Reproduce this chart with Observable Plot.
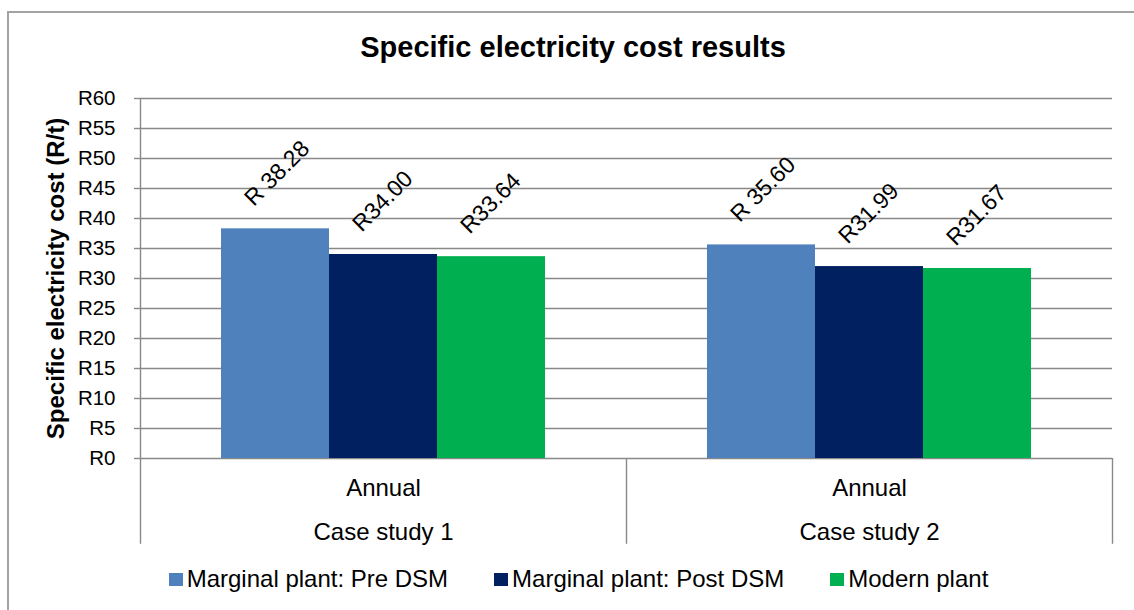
<!DOCTYPE html>
<html>
<head>
<meta charset="utf-8">
<script src="https://cdn.jsdelivr.net/npm/d3@7"></script>
<script src="https://cdn.jsdelivr.net/npm/@observablehq/plot@0.6"></script>
<style>
  body { margin: 0; width: 1134px; height: 610px; overflow: hidden; position: relative; background: #fff;
         font-family: "Liberation Sans", Arial, sans-serif; color: #000; }
  #border { position: absolute; left: 7px; top: 11px; width: 1200px; height: 700px; border: 2px solid #a3a3a3; box-sizing: border-box; }
  #title { position: absolute; left: 0; top: 33px; width: 1146px; text-align: center; font-weight: bold; font-size: 29px; line-height: 29px; }
  #chart { position: absolute; left: 0; top: 70px; }
  #legend { position: absolute; left: 0; top: 567px; width: 1157px; display: flex; justify-content: center; gap: 46px; font-size: 24px; line-height: 24px; }
  .item { display: flex; align-items: center; white-space: nowrap; }
  .sw { width: 14px; height: 13px; margin-right: 4px; }
</style>
</head>
<body>
<div id="border"></div>
<div id="title"></div>
<div id="chart"></div>
<div id="legend"></div>
<script>
const title = "Specific electricity cost results";
const yLabel = "Specific electricity cost (R/t)";
const cases = ["Case study 1", "Case study 2"];
const period = "Annual";
const series = ["Marginal plant: Pre DSM", "Marginal plant: Post DSM", "Modern plant"];
const preDSM = [38.28, 35.60];
const postDSM = [34.00, 31.99];
const modern = [33.64, 31.67];
const labelPrefix = ["R ", "R", "R"];
const yTicks = [0, 5, 10, 15, 20, 25, 30, 35, 40, 45, 50, 55, 60];
const colors = ["#4F81BD", "#002060", "#00B050"];

const values = [preDSM, postDSM, modern];
const rows = [];
cases.forEach((c, ci) => series.forEach((s, si) =>
  rows.push({case: c, ci, series: s, si, value: values[si][ci]})));

const gapWidth = 1.5;                       // Excel-style gap width (150%)
const barW = 1 / (series.length + gapWidth);
const barOff = gapWidth * barW / 2;
const bx1 = d => d.ci + barOff + d.si * barW;
const bx2 = d => bx1(d) + barW;
const bxc = d => bx1(d) + barW / 2;
const grid = "#898989";
const depth = -14.3;                        // depth of the category-label band below R0

document.getElementById("title").textContent = title;

const chart = Plot.plot({
  width: 1134,
  height: 480,
  marginTop: 28,
  marginBottom: 92,
  marginLeft: 140,
  marginRight: 22,
  style: {fontFamily: '"Liberation Sans", Arial, sans-serif', fontSize: "20.5px", overflow: "visible", background: "transparent", color: "#000"},
  x: {domain: [0, cases.length], axis: null},
  y: {domain: [0, 60], axis: null},
  color: {domain: series, range: colors},
  marks: [
    Plot.ruleY(yTicks, {stroke: grid, strokeWidth: 1.4}),
    Plot.axisY({ticks: yTicks, tickSize: 6, tickPadding: 19, tickFormat: d => "R" + d,
                stroke: grid, strokeWidth: 1.4, fill: "#000", label: null, fontSize: 20.5}),
    Plot.rect(rows, {x1: bx1, x2: bx2, y1: 0, y2: "value", fill: "series"}),
    Plot.ruleX([0], {y1: 60, y2: depth, stroke: grid, strokeWidth: 1.4}),
    Plot.ruleX(d3.range(1, cases.length + 1), {y1: 0, y2: depth, stroke: grid, strokeWidth: 1.4}),
    Plot.text(rows, {x: bxc, y: "value", text: d => labelPrefix[d.si] + d.value.toFixed(2),
                     rotate: -45, textAnchor: "start", lineAnchor: "middle", dx: -27, dy: -27,
                     fontSize: 23, fill: "#000"}),
    Plot.text(cases, {x: (d, i) => i + 0.5, frameAnchor: "bottom", text: () => period,
                      dy: 29.5, lineAnchor: "middle", fontSize: 24, fill: "#000"}),
    Plot.text(cases, {x: (d, i) => i + 0.5, frameAnchor: "bottom", text: d => d,
                      dy: 74, lineAnchor: "middle", fontSize: 24, fill: "#000"}),
    Plot.text([yLabel], {frameAnchor: "left", rotate: -90, dx: -84, textAnchor: "middle", lineAnchor: "middle",
                         fontSize: 24, fontWeight: "bold", fill: "#000"})
  ]
});
document.getElementById("chart").appendChild(chart);

const legend = document.getElementById("legend");
series.forEach((s, i) => {
  const item = document.createElement("div");
  item.className = "item";
  const sw = document.createElement("span");
  sw.className = "sw";
  sw.style.background = colors[i];
  const t = document.createElement("span");
  t.textContent = s;
  item.appendChild(sw);
  item.appendChild(t);
  legend.appendChild(item);
});
</script>
</body>
</html>
